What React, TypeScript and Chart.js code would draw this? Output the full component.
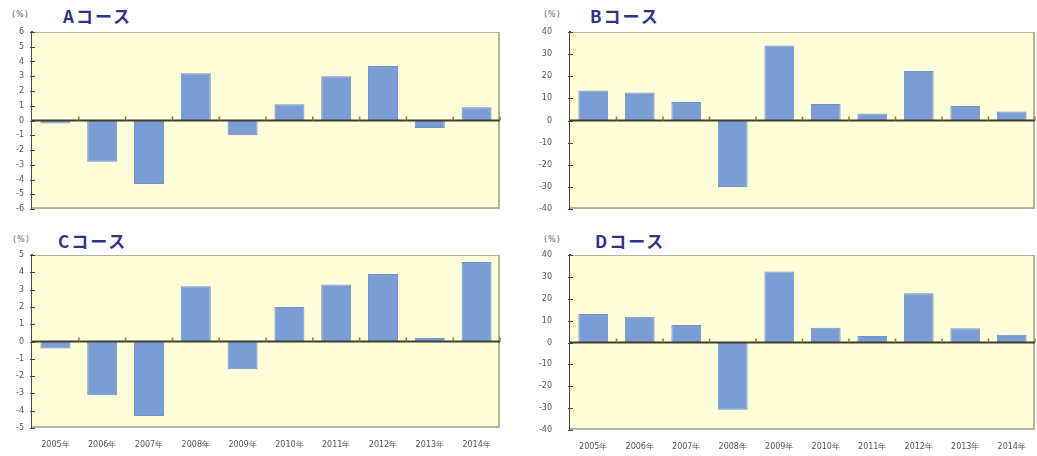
import React, { useEffect, useRef } from "react";
import { Chart, registerables } from "chart.js";

Chart.register(...registerables);

const years = ["2005年", "2006年", "2007年", "2008年", "2009年", "2010年", "2011年", "2012年", "2013年", "2014年"];
const courseA = [-0.2, -2.8, -4.3, 3.2, -1.0, 1.1, 3.0, 3.7, -0.5, 0.9];
const courseB = [13.6, 12.7, 8.4, -30.1, 33.9, 7.5, 3.2, 22.4, 6.6, 4.1];
const courseC = [-0.4, -3.1, -4.3, 3.2, -1.6, 2.0, 3.3, 3.9, 0.2, 4.6];
const courseD = [13.0, 11.8, 8.0, -30.7, 32.5, 6.7, 3.0, 22.5, 6.5, 3.6];
const titles = ["Aコース", "Bコース", "Cコース", "Dコース"];
const unitLabel = "(%)";

const framePlugin = {
  id: "framePlugin",
  beforeDatasetsDraw(chart: any) {
    const { ctx, chartArea: a } = chart;
    ctx.save();
    ctx.fillStyle = "#fdfdd7";
    ctx.fillRect(a.left, a.top, a.right - a.left, a.bottom - a.top);
    ctx.restore();
  },
  afterDatasetsDraw(chart: any) {
    const { ctx, chartArea: a } = chart;
    const ys = chart.scales.y;
    const y0 = ys.getPixelForValue(0);
    const n = chart.data.labels.length;
    ctx.save();
    // frame top / right / bottom
    ctx.strokeStyle = "#b4b4a2";
    ctx.lineWidth = 1;
    ctx.beginPath();
    ctx.moveTo(a.left, a.top + 0.5);
    ctx.lineTo(a.right, a.top + 0.5);
    ctx.stroke();
    ctx.lineWidth = 2;
    ctx.beginPath();
    ctx.moveTo(a.right - 1, a.top);
    ctx.lineTo(a.right - 1, a.bottom - 1);
    ctx.lineTo(a.left, a.bottom - 1);
    ctx.stroke();
    // y tick marks across the axis
    ctx.strokeStyle = "#4a4a38";
    ctx.lineWidth = 1;
    for (const t of ys.ticks) {
      const y = Math.round(ys.getPixelForValue(t.value)) + 0.5;
      ctx.beginPath();
      ctx.moveTo(a.left - 2, y);
      ctx.lineTo(a.left + 3, y);
      ctx.stroke();
    }
    // zero line
    ctx.strokeStyle = "#3e3e2c";
    ctx.lineWidth = 2;
    ctx.beginPath();
    ctx.moveTo(a.left, y0);
    ctx.lineTo(a.right, y0);
    ctx.stroke();
    // category boundary marks
    ctx.strokeStyle = "#8c7c34";
    ctx.lineWidth = 1.5;
    const w = (a.right - a.left) / n;
    for (let k = 1; k <= n; k++) {
      const x = a.left + w * k;
      ctx.beginPath();
      ctx.moveTo(x, y0 - 4);
      ctx.lineTo(x, y0);
      ctx.stroke();
    }
    ctx.restore();
  },
};

type PanelProps = {
  left: number;
  top: number;
  width: number;
  height: number;
  values: number[];
  min: number;
  max: number;
  step: number;
  yWidth: number;
  yGap: number;
  padRight: number;
  xHeight: number;
  padBottom: number;
  showX: boolean;
};

function Panel(p: PanelProps) {
  const ref = useRef<HTMLCanvasElement | null>(null);
  useEffect(() => {
    if (!ref.current) return;
    const chart = new Chart(ref.current, {
      type: "bar",
      data: {
        labels: years,
        datasets: [
          {
            data: p.values,
            backgroundColor: "#7b9dd6",
            borderColor: "#7092cb",
            borderWidth: 1,
            categoryPercentage: 1,
            barPercentage: 0.64,
          },
        ],
      },
      options: {
        animation: false,
        responsive: false,
        maintainAspectRatio: false,
        layout: { padding: { left: 0, top: 8, right: p.padRight, bottom: p.padBottom } },
        plugins: { legend: { display: false }, tooltip: { enabled: false }, title: { display: false } },
        scales: {
          x: {
            grid: { display: false },
            border: { display: false },
            ticks: {
              display: p.showX,
              color: "#555",
              font: { family: "DejaVu Sans", size: 8 },
              maxRotation: 0,
              minRotation: 0,
              autoSkip: false,
              padding: 4,
            },
            afterFit: (s: any) => {
              s.height = p.xHeight;
            },
          },
          y: {
            min: p.min,
            max: p.max,
            grid: {
              display: true,
              drawOnChartArea: false,
              drawTicks: true,
              tickLength: p.yGap,
              tickColor: "rgba(0,0,0,0)",
              color: "rgba(0,0,0,0)",
            },
            border: { display: true, color: "#4a4a38", width: 2 },
            ticks: {
              stepSize: p.step,
              color: "#555",
              font: { family: "DejaVu Sans", size: 8 },
              padding: 1,
            },
            afterFit: (s: any) => {
              s.width = p.yWidth;
            },
          },
        },
      },
      plugins: [framePlugin],
    });
    return () => chart.destroy();
  }, []);
  return (
    <canvas
      ref={ref}
      width={p.width}
      height={p.height}
      style={{ position: "absolute", left: p.left, top: p.top, width: p.width, height: p.height }}
    />
  );
}

function Title({ left, top, unitLeft, text }: { left: number; top: number; unitLeft: number; text: string }) {
  return (
    <>
      <div
        style={{
          position: "absolute",
          left: unitLeft,
          top: top + 4,
          fontSize: 8,
          color: "#666",
          fontFamily: "DejaVu Sans",
          letterSpacing: 1,
        }}
      >
        {unitLabel}
      </div>
      <div
        style={{
          position: "absolute",
          left,
          top,
          fontSize: 17,
          fontWeight: "bold",
          color: "#2b3688",
          fontFamily: "'Noto Sans CJK JP'",
          lineHeight: "20px",
          letterSpacing: 2,
        }}
      >
        {text}
      </div>
    </>
  );
}

export default function App() {
  return (
    <div
      style={{
        position: "fixed",
        left: 0,
        top: 0,
        width: 1037,
        height: 456,
        background: "#ffffff",
        overflow: "hidden",
      }}
    >
      <Title left={63} top={6} unitLeft={12} text={titles[0]} />
      <Title left={590} top={6} unitLeft={544} text={titles[1]} />
      <Title left={58} top={231} unitLeft={13} text={titles[2]} />
      <Title left={595} top={231} unitLeft={544} text={titles[3]} />
      <Panel left={0} top={24} width={520} height={206} values={courseA} min={-6} max={6} step={1}
        yWidth={32} yGap={7} padRight={20} xHeight={0} padBottom={21} showX={false} />
      <Panel left={520} top={24} width={517} height={206} values={courseB} min={-40} max={40} step={10}
        yWidth={50} yGap={17} padRight={2} xHeight={0} padBottom={21} showX={false} />
      <Panel left={0} top={247} width={520} height={209} values={courseC} min={-5} max={5} step={1}
        yWidth={32} yGap={7} padRight={20} xHeight={28} padBottom={0} showX={true} />
      <Panel left={520} top={247} width={517} height={209} values={courseD} min={-40} max={40} step={10}
        yWidth={50} yGap={17} padRight={2} xHeight={26} padBottom={0} showX={true} />
    </div>
  );
}
